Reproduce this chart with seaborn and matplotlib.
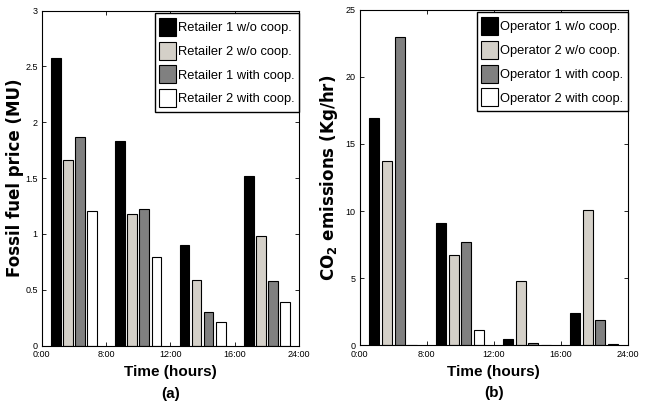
import pandas as pd
import matplotlib.pyplot as plt
from matplotlib import font_manager
import seaborn as sns

slots = ["1", "2", "3", "4"]
tick_labels = ["0:00", "8:00", "12:00", "16:00", "24:00"]

retailers = ["Retailer 1 w/o coop.", "Retailer 2 w/o coop.", "Retailer 1 with coop.", "Retailer 2 with coop."]
r1_wo = [2.58, 1.83, 0.90, 1.52]
r2_wo = [1.66, 1.18, 0.59, 0.98]
r1_w = [1.87, 1.22, 0.30, 0.58]
r2_w = [1.21, 0.79, 0.21, 0.39]

operators = ["Operator 1 w/o coop.", "Operator 2 w/o coop.", "Operator 1 with coop.", "Operator 2 with coop."]
o1_wo = [16.9, 9.1, 0.45, 2.4]
o2_wo = [13.7, 6.75, 4.75, 10.1]
o1_w = [23.0, 7.7, 0.2, 1.85]
o2_w = [0.0, 1.15, 0.0, 0.12]

colors = ["#000000", "#d4d0c8", "#808080", "#ffffff"]

# narrow font if there is one, otherwise Liberation Sans (Arial metrics)
names = {f.name for f in font_manager.fontManager.ttflist}
narrow = "Liberation Sans Narrow" in names
main_font = "Liberation Sans Narrow" if narrow else "Liberation Sans"

sns.set_style("ticks")
plt.rcParams["font.family"] = [main_font, "DejaVu Sans"]
plt.rcParams["text.color"] = "black"
plt.rcParams["axes.labelcolor"] = "black"
plt.rcParams["xtick.color"] = "black"
plt.rcParams["ytick.color"] = "black"
plt.rcParams["xtick.direction"] = "in"
plt.rcParams["ytick.direction"] = "in"
plt.rcParams["legend.fancybox"] = False
plt.rcParams["legend.edgecolor"] = "black"
plt.rcParams["legend.framealpha"] = 1

leg_size = 10.5 if narrow else 9.3
lab_size = 12 if narrow else 11
tick_size = 7 if narrow else 6.5


def long_df(names, series):
    rows = []
    for name, vals in zip(names, series):
        for s, v in zip(slots, vals):
            rows.append({"slot": s, "series": name, "value": v})
    return pd.DataFrame(rows)


df_a = long_df(retailers, [r1_wo, r2_wo, r1_w, r2_w])
df_b = long_df(operators, [o1_wo, o2_wo, o1_w, o2_w])

fig = plt.figure(figsize=(6.53, 4.09), dpi=100)
ax1 = fig.add_axes([0.064, 0.155, 0.394, 0.819])
ax2 = fig.add_axes([0.551, 0.156, 0.410, 0.820])

panels = [
    (ax1, df_a, 3, [0, 0.5, 1, 1.5, 2, 2.5, 3], ["0", "0.5", "1", "1.5", "2", "2.5", "3"],
     "Fossil fuel price (MU)", "(a)", -0.07),
    (ax2, df_b, 25, [0, 5, 10, 15, 20, 25], ["0", "5", "10", "15", "20", "25"],
     "CO$_\\mathbf{2}$ emissions (Kg/hr)", "(b)", -0.075),
]

for ax, d, ymax, yt, ytl, ylab, tag, ylab_x in panels:
    sns.barplot(data=d, x="slot", y="value", hue="series", palette=colors,
                edgecolor="black", linewidth=0.8, width=0.75, gap=0.2,
                saturation=1, ax=ax)
    ax.set_xlim(-0.5, 3.5)
    ax.set_ylim(0, ymax)
    ax.set_xticks([-0.5, 0.5, 1.5, 2.5, 3.5])
    ax.set_xticklabels(tick_labels, fontsize=tick_size)
    ax.set_yticks(yt)
    ax.set_yticklabels(ytl, fontsize=tick_size)
    ax.tick_params(top=True, right=True, length=3, width=0.6, pad=3)
    ax.tick_params(axis="x", pad=3.5)
    for sp in ax.spines.values():
        sp.set_color("black")
        sp.set_linewidth(0.8)
    ax.set_xlabel("Time (hours)\n" + tag, fontsize=lab_size, fontweight="bold", labelpad=4,
                  linespacing=1.7)
    ax.set_ylabel(ylab, fontsize=12, fontweight="bold", family="DejaVu Sans")
    ax.yaxis.set_label_coords(ylab_x, 0.5)
    sns.move_legend(ax, "upper right", bbox_to_anchor=(1.0, 0.993), title=None,
                    frameon=True, fontsize=leg_size, borderaxespad=0, borderpad=0.37,
                    handlelength=1.32, handleheight=1.77, handletextpad=0.1,
                    labelspacing=0.45)
    ax.get_legend().get_frame().set_linewidth(1.0)

fig.savefig("out.png", dpi=100)
